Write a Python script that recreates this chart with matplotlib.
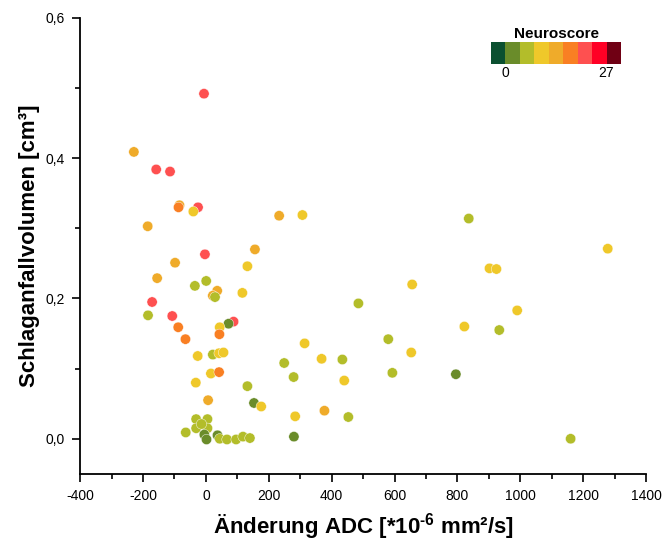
import numpy as np
import matplotlib
matplotlib.use("Agg")
import matplotlib.pyplot as plt
from matplotlib.colors import ListedColormap, BoundaryNorm
from matplotlib.ticker import MultipleLocator

plt.rcParams['font.family'] = ['Liberation Sans', 'DejaVu Sans']
plt.rcParams['mathtext.fontset'] = 'custom'
plt.rcParams['mathtext.rm'] = 'Liberation Sans:bold'
plt.rcParams['mathtext.bf'] = 'Liberation Sans:bold'

# Neuroscore colour classes (0..27 in 9 steps)
score_colors = ['#0b5030', '#6a8c2a', '#b3bd2a', '#efc82a', '#efab2a',
                '#f97f23', '#fe5050', '#ff0025', '#700014']
score_bounds = [0, 3, 6, 9, 12, 15, 18, 21, 24, 27]

# Aenderung ADC [*10^-6 mm2/s]
adc = [-6, -229, -158, -114, -84, -87, -25, -40, -185, -3,
       -98, -155, 1, -35, 36, 22, 29, 116, 132, -171,
       -184, -107, -88, 88, 72, 44, 43, -65, 233, 307,
       156, 656, 485, 314, 580, 653, 249, 368, 434, 593,
       795, 279, 440, 132, 153, 176, 377, 284, 453, 280,
       836, 1278, 902, 924, 990, 822, 933, 1160, -26, 22,
       42, 56, 16, 42, -32, 7, -31, 5, -31, 5,
       -14, -64, 37, 44, 67, 96, 118, 140, -5, 2]
# Schlaganfallvolumen [cm3]
volume = [0.492, 0.409, 0.384, 0.381, 0.333, 0.330, 0.330, 0.324, 0.303, 0.263,
          0.251, 0.229, 0.225, 0.218, 0.211, 0.204, 0.202, 0.208, 0.246, 0.195,
          0.176, 0.175, 0.159, 0.167, 0.164, 0.159, 0.149, 0.142, 0.318, 0.319,
          0.270, 0.220, 0.193, 0.136, 0.142, 0.123, 0.108, 0.114, 0.113, 0.094,
          0.092, 0.088, 0.083, 0.075, 0.051, 0.046, 0.040, 0.032, 0.031, 0.003,
          0.314, 0.271, 0.243, 0.242, 0.183, 0.160, 0.155, 0.000, 0.118, 0.120,
          0.122, 0.123, 0.093, 0.095, 0.080, 0.055, 0.028, 0.028, 0.015, 0.015,
          0.021, 0.009, 0.005, 0.000, -0.001, -0.001, 0.003, 0.001, 0.006, -0.001]
neuroscore = [19, 13, 19, 19, 13, 16, 19, 10, 13, 19,
              13, 13, 7, 7, 13, 13, 7, 10, 10, 19,
              7, 19, 16, 19, 4, 10, 16, 16, 13, 10,
              13, 10, 7, 10, 7, 10, 7, 10, 7, 7,
              4, 7, 10, 7, 4, 10, 13, 10, 7, 4,
              7, 10, 10, 10, 10, 10, 7, 7, 10, 7,
              10, 10, 10, 16, 10, 13, 7, 7, 7, 7,
              7, 7, 4, 7, 7, 7, 7, 7, 4, 4]

cmap = ListedColormap(score_colors)
norm = BoundaryNorm(score_bounds, cmap.N)

fig = plt.figure(figsize=(6.62, 5.44), dpi=100)
ax = fig.add_axes([0.121, 0.129, 0.855, 0.838])

ax.scatter(adc, volume, c=neuroscore, cmap=cmap, norm=norm, s=55,
           edgecolors='white', linewidths=0.3, zorder=3)

ax.set_xlim(-400, 1400)
ax.set_ylim(-0.05, 0.6)
ax.xaxis.set_major_locator(MultipleLocator(200))
ax.xaxis.set_minor_locator(MultipleLocator(100))
ax.yaxis.set_major_locator(MultipleLocator(0.2))
ax.yaxis.set_minor_locator(MultipleLocator(0.1))
xt = np.arange(-400, 1401, 200)
ax.set_xticks(xt)
ax.set_xticklabels([str(v) for v in xt])
yt = [0.0, 0.2, 0.4, 0.6]
ax.set_yticks(yt)
ax.set_yticklabels([f"{v:.1f}".replace('.', ',') for v in yt])

for s in ['top', 'right']:
    ax.spines[s].set_visible(False)
for s in ['left', 'bottom']:
    ax.spines[s].set_linewidth(1.3)
ax.tick_params(which='major', direction='out', length=6, width=1.2, labelsize=10, pad=5)
ax.tick_params(which='minor', direction='out', length=3.5, width=1.2)

ax.set_xlabel('Änderung ADC [*10$^{\\text{-6}}$ mm²/s]', fontsize=16, fontweight='bold', labelpad=6)
ax.set_ylabel('Schlaganfallvolumen [cm³]', fontsize=16, fontweight='bold', labelpad=4)

# colour scale legend
cax = fig.add_axes([0.742, 0.882, 0.196, 0.040])
cax.imshow(np.arange(9).reshape(1, -1), cmap=cmap, aspect='auto',
           extent=[0, 9, 0, 1])
cax.set_axis_off()
cax.text(4.5, 1.05, 'Neuroscore', ha='center', va='bottom', fontsize=11, fontweight='bold')
cax.text(1, -0.1, '0', ha='center', va='top', fontsize=10)
cax.text(8, -0.1, '27', ha='center', va='top', fontsize=10)

fig.savefig('out.png', dpi=100)
